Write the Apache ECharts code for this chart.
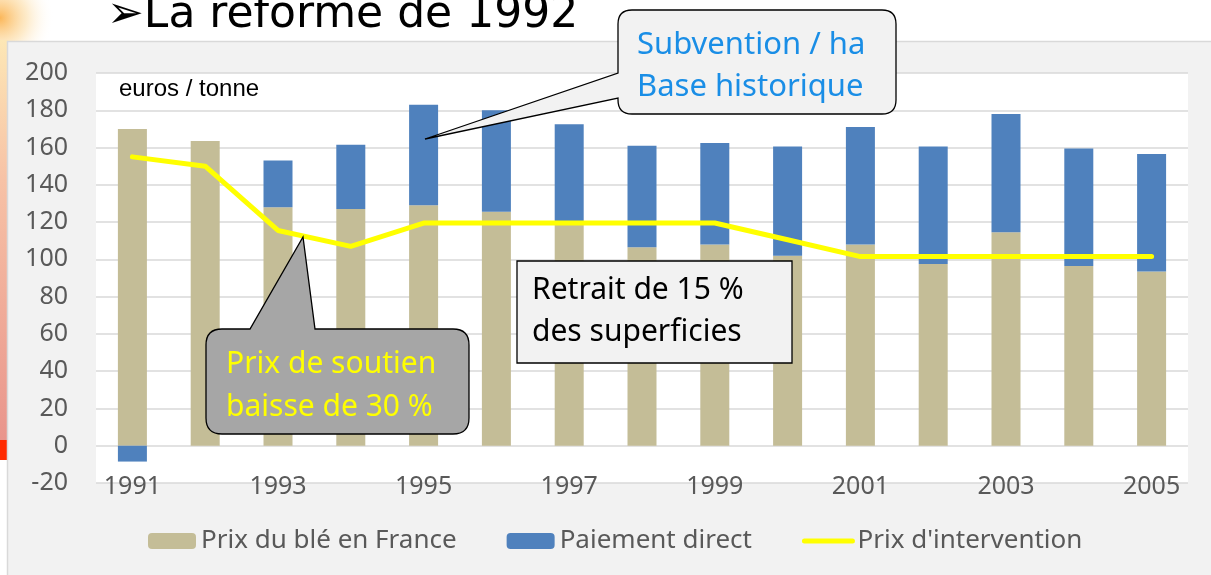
<!DOCTYPE html>
<html>
<head>
<meta charset="utf-8">
<script src="https://cdn.jsdelivr.net/npm/echarts@6/dist/echarts.min.js"></script>
<style>
html,body{margin:0;padding:0;background:#fff;}
#c{width:1211px;height:575px;}
</style>
</head>
<body>
<div id="c"></div>
<script>
// ---- data ----
const years = ['1991','1992','1993','1994','1995','1996','1997','1998','1999','2000','2001','2002','2003','2004','2005'];
const prixBle = [170, 163.5, 128, 127, 129, 125.5, 120, 106.5, 108, 102, 108, 97.5, 114.5, 96.5, 93.5];
const paiementDirect = [-8.5, 0, 25, 34.5, 54, 54.5, 52.5, 54.5, 54.5, 58.5, 63, 63, 63.5, 63, 63];
const prixIntervention = [155, 150, 115.5, 107, 119.5, 119.5, 119.5, 119.5, 119.5, 110.5, 101.5, 101.5, 101.5, 101.5, 101.5];
const seriesNames = ['Prix du blé en France', 'Paiement direct', "Prix d'intervention"];
const yMin = -20, yMax = 200, yStep = 20;

// callout outlines (SVG path data)
echarts.graphic.registerShape('calloutSubvention', echarts.graphic.extendPath(
  'M 632 10 H 882 Q 896 10 896 24 V 100 Q 896 114 882 114 H 632 Q 618 114 618 100 V 98 L 425 139 L 618 73 V 24 Q 618 10 632 10 Z'));
echarts.graphic.registerShape('calloutSoutien', echarts.graphic.extendPath(
  'M 222 329 H 250 L 303 237 L 315 329 H 453 Q 469 329 469 345 V 418 Q 469 434 453 434 H 222 Q 206 434 206 418 V 345 Q 206 329 222 329 Z'));

const chart = echarts.init(document.getElementById('c'), null, {renderer: 'canvas'});
const txtFont = '"Noto Sans", "Open Sans", sans-serif';

const option = {
  animation: false,
  backgroundColor: '#ffffff',
  grid: {left: 96, right: 23, top: 73, height: 410, show: true, backgroundColor: '#ffffff', borderWidth: 0},
  legend: {
    left: 148, top: 528, padding: 0,
    itemWidth: 48, itemHeight: 16, itemGap: 50,
    textStyle: {fontFamily: txtFont, fontSize: 26, color: '#595959'},
    data: [
      seriesNames[0],
      seriesNames[1],
      {name: seriesNames[2], itemStyle: {color: 'rgba(0,0,0,0)', borderWidth: 0, opacity: 0},
       lineStyle: {width: 5, color: '#ffff00', cap: 'round'}}
    ]
  },
  xAxis: {
    type: 'category', data: years,
    axisLine: {show: false, onZero: false}, axisTick: {show: false},
    axisLabel: {interval: 1, margin: -9, fontFamily: txtFont, fontSize: 25, color: '#595959'}
  },
  yAxis: {
    type: 'value', min: yMin, max: yMax, interval: yStep,
    axisLine: {show: false}, axisTick: {show: false},
    axisLabel: {margin: 28, fontFamily: txtFont, fontSize: 25, color: '#595959'},
    splitLine: {lineStyle: {color: '#d9d9d9', width: 1.5}}
  },
  series: [
    {name: seriesNames[0], type: 'bar', stack: 'p', data: prixBle, barWidth: 29,
     itemStyle: {color: '#c4bd97'}},
    {name: seriesNames[1], type: 'bar', stack: 'p', data: paiementDirect, barWidth: 29,
     itemStyle: {color: '#4f81bd'}},
    {name: seriesNames[2], type: 'line', data: prixIntervention, symbol: 'none', z: 5,
     lineStyle: {color: '#ffff00', width: 5, cap: 'round', join: 'round'}, itemStyle: {color: '#ffff00'}}
  ],
  graphic: [
    {type: 'rect', z: -20, shape: {x: 0, y: 0, width: 70, height: 60},
     style: {fill: new echarts.graphic.RadialGradient(0, 0.3, 0.9, [
       {offset: 0, color: 'rgba(250,170,60,0.85)'}, {offset: 0.5, color: 'rgba(252,215,150,0.5)'}, {offset: 1, color: 'rgba(255,255,255,0)'}])}},
    {type: 'rect', z: -20, shape: {x: 0, y: 40, width: 8, height: 400},
     style: {fill: new echarts.graphic.LinearGradient(0, 0, 0, 1, [
       {offset: 0, color: '#fde7b5'}, {offset: 0.35, color: '#f7c2a6'}, {offset: 1, color: '#e9958c'}])}},
    {type: 'rect', z: -20, shape: {x: 0, y: 440, width: 8, height: 20}, style: {fill: '#ff2a00'}},
    {type: 'rect', z: -15, shape: {x: 7.5, y: 41.5, width: 1210, height: 540},
     style: {fill: '#f2f2f2', stroke: '#d9d9d9', lineWidth: 1.5}},
    {type: 'text', z: 50, x: 107, y: 16,
     style: {text: '\u27A2La réforme de 1992', font: '44px "DejaVu Sans", sans-serif', fill: '#000', verticalAlign: 'middle'}},
    {type: 'text', z: 50, x: 119, y: 89,
     style: {text: 'euros / tonne', font: '24px "Liberation Sans", Arial, sans-serif', fill: '#000', verticalAlign: 'middle'}},
    {type: 'calloutSubvention', z: 100, shape: {},
     style: {fill: '#f2f2f2', stroke: '#000', lineWidth: 1.3}},
    {type: 'text', z: 101, x: 637, y: 45,
     style: {text: 'Subvention / ha', font: '31px ' + txtFont, fill: '#1a8ee6', verticalAlign: 'middle'}},
    {type: 'text', z: 101, x: 637, y: 87,
     style: {text: 'Base historique', font: '31px ' + txtFont, fill: '#1a8ee6', verticalAlign: 'middle'}},
    {type: 'calloutSoutien', z: 100, shape: {},
     style: {fill: '#a6a6a6', stroke: '#000', lineWidth: 1.3}},
    {type: 'text', z: 101, x: 226, y: 364,
     style: {text: 'Prix de soutien', font: '30px ' + txtFont, fill: '#ffff00', verticalAlign: 'middle'}},
    {type: 'text', z: 101, x: 226, y: 407,
     style: {text: 'baisse de 30 %', font: '30px ' + txtFont, fill: '#ffff00', verticalAlign: 'middle'}},
    {type: 'rect', z: 100, shape: {x: 517, y: 261, width: 275, height: 102},
     style: {fill: '#f2f2f2', stroke: '#000', lineWidth: 1.3}},
    {type: 'text', z: 101, x: 532, y: 290,
     style: {text: 'Retrait de 15 %', font: '30px ' + txtFont, fill: '#000', verticalAlign: 'middle'}},
    {type: 'text', z: 101, x: 532, y: 332,
     style: {text: 'des superficies', font: '30px ' + txtFont, fill: '#000', verticalAlign: 'middle'}}
  ]
};
chart.setOption(option);
</script>
</body>
</html>
